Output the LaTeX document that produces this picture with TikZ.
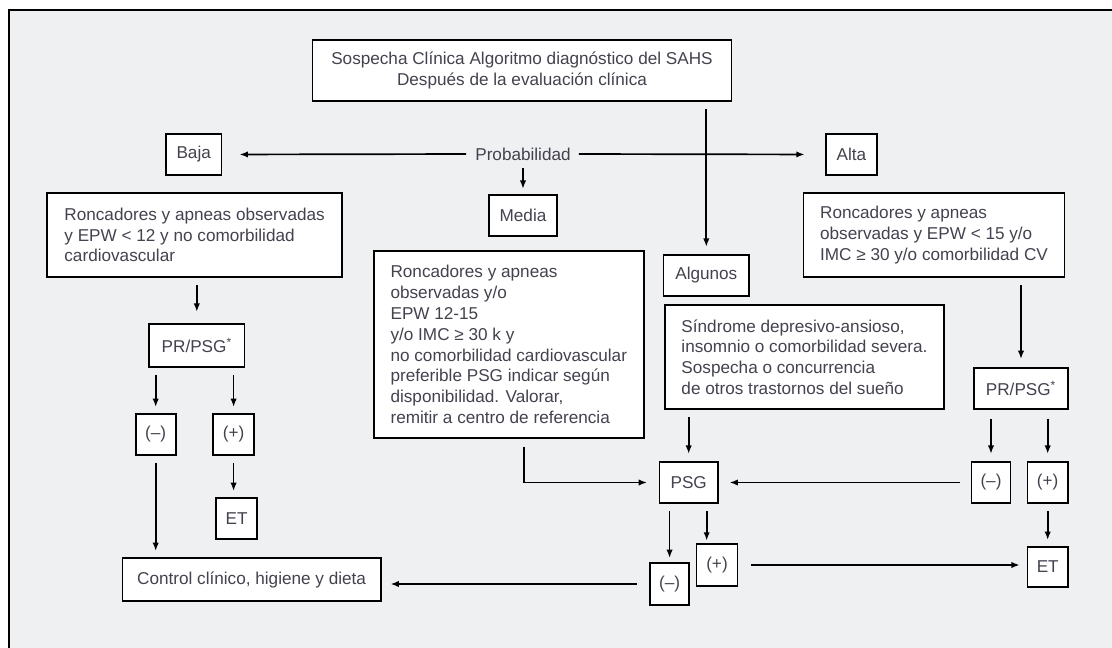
\documentclass[tikz,border=0pt]{standalone}
\usepackage{fontspec}
\setmainfont{Liberation Sans}
\usepackage{tikz}
\usetikzlibrary{arrows.meta,positioning,calc}
\definecolor{panelGray}{RGB}{239,240,242}
\definecolor{textDark}{RGB}{68,66,78}
\tikzset{
  flowbox/.style={
    rectangle, draw=black, line width=1.25pt, fill=white, text=textDark,
    font=\fontsize{12.2}{14.8}\selectfont
  },
  smallbox/.style={flowbox, inner sep=0pt, minimum height=1.025cm},
  textbox/.style={flowbox, align=left, inner sep=0pt},
  flowArrow/.style={-{Latex[length=6pt,width=4.5pt]}, line width=1.2pt,
    shorten <=0.19cm, shorten >=0.15cm}
}
\begin{document}
\begin{tikzpicture}[x=0.025cm, y=-0.025cm]
    \useasboundingbox (0,0) rectangle (1112,648);
    % panel
    \fill[panelGray] (9,10) rectangle (1112,648);
    \draw[line width=1pt] (9,648) -- (9,10) -- (1112,10);

    \node[flowbox, align=center, minimum width=10.475cm, minimum height=1.525cm,
          inner sep=0pt] (top) at (522,70.5)
          {Sospecha Clínica Algoritmo diagnóstico del SAHS\\Después de la evaluación clínica};

    \node[text=textDark, font=\fontsize{12.2}{14.8}\selectfont, inner sep=0pt] (prob) at (523,154) {Probabilidad};
    \node[smallbox, minimum width=1.385cm] (baja) at (193.7,154.5) {Baja};
    \node[smallbox, minimum width=1.27cm] (alta) at (851.4,154.5) {Alta};
    \node[smallbox, minimum width=1.7cm] (media) at (523,215.5) {Media};
    \node[smallbox, minimum width=2.135cm] (algunos) at (706.3,275.5) {Algunos};

    \node[textbox, minimum width=7.36cm, minimum height=2.1cm] (lbox) at (194.6,235)
          {Roncadores y apneas observadas\\y EPW < 12 y no comorbilidad\\cardiovascular};
    \node[textbox, minimum width=6.52cm, minimum height=2.1cm] (rbox) at (934,235)
          {Roncadores y apneas\\observadas y EPW < 15 y/o\\IMC ≥ 30 y/o comorbilidad CV};
    \node[textbox, minimum width=6.74cm, minimum height=4.675cm] (mbox) at (508.8,344.5)
          {Roncadores y apneas\\observadas y/o\\EPW 12-15\\y/o IMC ≥ 30 k y\\no comorbilidad cardiovascular\\preferible PSG indicar según\\disponibilidad. Valorar,\\remitir a centro de referencia};
    \node[textbox, minimum width=6.975cm, minimum height=2.6cm] (abox) at (804.5,357)
          {Síndrome depresivo-ansioso,\\insomnio o comorbilidad severa.\\Sospecha o concurrencia\\de otros trastornos del sueño};

    % left branch
    \node[smallbox, minimum width=2.39cm, minimum height=1.075cm] (lpr) at (196.8,345.5) {PR/PSG\textsuperscript{*}};
    \node[smallbox, minimum width=1.0cm] (lneg) at (155.7,434.5) {(–)};
    \node[smallbox, minimum width=1.02cm] (lpos) at (233.6,434.5) {(+)};
    \node[smallbox, minimum width=1.025cm] (let) at (236.6,518.5) {ET};
    \node[smallbox, minimum width=6.455cm, minimum height=1.075cm] (ctrl) at (251.6,579.5) {Control clínico, higiene y dieta};

    % right branch
    \node[smallbox, minimum width=2.35cm] (rpr) at (1021,388.5) {PR/PSG\textsuperscript{*}};
    \node[smallbox, minimum width=0.98cm] (rneg) at (991,482.5) {(–)};
    \node[smallbox, minimum width=1.01cm] (rpos) at (1047.7,482.5) {(+)};
    \node[smallbox, minimum width=1.01cm, minimum height=1.0cm] (ret) at (1047.7,567) {ET};

    % PSG
    \node[smallbox, minimum width=1.455cm] (psg) at (688.7,482.5) {PSG};
    \node[smallbox, minimum width=0.98cm, minimum height=1.05cm] (bneg) at (669.6,584) {(–)};
    \node[smallbox, minimum width=1.025cm, minimum height=1.05cm] (bpos) at (717,565) {(+)};
    \coordinate (psgr) at ([xshift=-0.3cm]psg.south east);
    \coordinate (mbend) at ([xshift=0.38cm]mbox.south);

    \draw[flowArrow, shorten <=0.22cm, shorten >=0.43cm] (prob.west) -- (baja.east);
    \draw[flowArrow, shorten <=0.2cm, shorten >=0.51cm] (prob.east) -- (alta.west);
    \draw[flowArrow, shorten >=0.13cm] (media.north |- prob.south) -- (media.north);
    \draw[flowArrow, shorten <=0.18cm, shorten >=0.18cm] (top.south -| algunos.north) -- (algunos.north);

    \draw[flowArrow, shorten >=0.28cm] (lpr.north |- lbox.south) -- (lpr.north);
    \draw[flowArrow] (lneg.north |- lpr.south) -- (lneg.north);
    \draw[flowArrow] (lpos.north |- lpr.south) -- (lpos.north);
    \draw[flowArrow] (lneg.south) -- (lneg.south |- ctrl.north);
    \draw[flowArrow] (lpos.south) -- (lpos.south |- let.north);

    \draw[flowArrow, shorten >=0.29cm] (mbend) |- (psg.west);
    \draw[flowArrow, shorten >=0.18cm] (psg.north |- abox.south) -- (psg.north);

    \draw[flowArrow, shorten >=0.2cm] (rpr.north |- rbox.south) -- (rpr.north);
    \draw[flowArrow, shorten <=0.22cm, shorten >=0.18cm] (rneg.north |- rpr.south) -- (rneg.north);
    \draw[flowArrow, shorten <=0.22cm, shorten >=0.18cm] (rpos.north |- rpr.south) -- (rpos.north);
    \draw[flowArrow, shorten <=0.27cm, shorten >=0.27cm] (rneg.west) -- (rneg.west -| psg.east);
    \draw[flowArrow] (rpos.south) -- (rpos.south |- ret.north);

    \draw[flowArrow, shorten >=0.1cm] (bneg.north |- psg.south) -- (bneg.north);
    \draw[flowArrow, shorten >=0.06cm] (psgr) -- (psgr |- bpos.north);
    \draw[flowArrow, shorten <=0.31cm, shorten >=0.17cm] (bpos.east) -- (bpos.east -| ret.west);
    \draw[flowArrow, shorten <=0.31cm, shorten >=0.22cm] (bneg.west) -- (bneg.west -| ctrl.east);
\end{tikzpicture}
\end{document}
